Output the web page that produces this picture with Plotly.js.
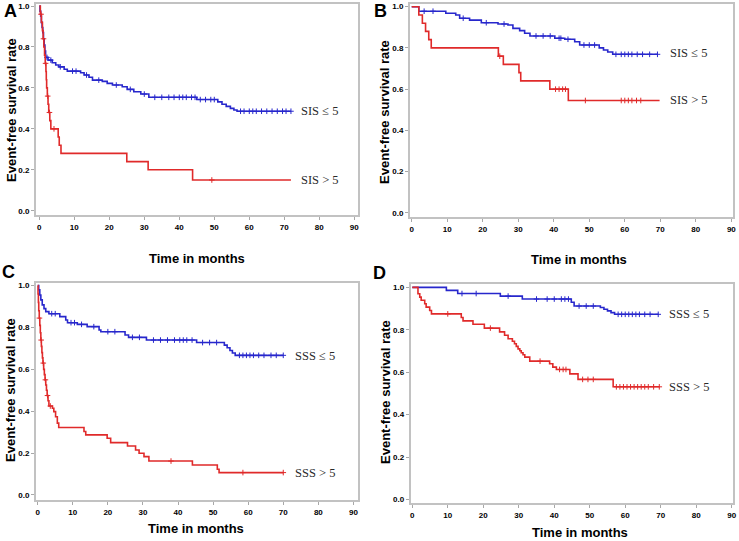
<!DOCTYPE html>
<html>
<head>
<meta charset="utf-8">
<script src="https://cdn.plot.ly/plotly-3.0.1.min.js"></script>
<style>
html,body{margin:0;padding:0;background:#fff;}
#chart{width:739px;height:541px;}
</style>
</head>
<body>
<div id="chart"></div>
<script>
// ---------- shared ticks / labels ----------
const monthTicks = [0, 10, 20, 30, 40, 50, 60, 70, 80, 90];
const rateTicks = [0, 0.2, 0.4, 0.6, 0.8, 1.0];
const panelLetters = ['A', 'B', 'C', 'D'];
const xTitle = 'Time in months';
const yTitle = 'Event-free survival rate';
const sisLabels = ['SIS \u2264 5', 'SIS > 5'];
const sssLabels = ['SSS \u2264 5', 'SSS > 5'];

// ---------- Panel A (SIS) ----------
const aLowTime = [0, 0.2, 0.4, 0.6, 0.8, 1.0, 1.2, 1.4, 1.6, 1.8, 2.5, 3.7, 4.7, 5.6, 7.1, 8.0, 11.8, 12.8, 14.2, 15.2, 18.0, 19.4, 20.9, 23.7, 25.1, 27.0, 29.0, 31.3, 45.0, 51.0, 52.2, 53.4, 54.6, 55.6, 56.5];
const aLowSurv = [1.0, 0.975, 0.95, 0.92, 0.895, 0.87, 0.84, 0.81, 0.78, 0.749, 0.736, 0.723, 0.712, 0.703, 0.691, 0.682, 0.674, 0.663, 0.652, 0.638, 0.632, 0.622, 0.614, 0.606, 0.593, 0.581, 0.57, 0.554, 0.543, 0.532, 0.52, 0.51, 0.5, 0.492, 0.486];
const aLowEnd = 71.9;
const aLowCensor = [2.2, 3.3, 6.0, 9.5, 10.5, 13.5, 17, 22, 26, 30, 33, 35, 37, 38.5, 40, 41, 42, 43.5, 44.5, 46, 47.5, 49, 50, 57.5, 58.5, 60, 61, 62, 63.5, 65, 66.5, 68, 69.5, 70.5, 71.9];
const aHighTime = [0, 0.3, 0.6, 0.9, 1.1, 1.3, 1.5, 1.7, 1.9, 2.0, 2.1, 2.3, 2.5, 2.7, 3.0, 3.3, 5.4, 5.7, 6.2, 25.0, 31.1, 43.8];
const aHighSurv = [1.0, 0.96, 0.92, 0.88, 0.84, 0.80, 0.76, 0.72, 0.68, 0.64, 0.60, 0.56, 0.52, 0.48, 0.44, 0.40, 0.36, 0.32, 0.28, 0.24, 0.20, 0.15];
const aHighEnd = 71.9;
const aHighCensor = [0.5, 1.2, 1.8, 2.4, 2.9, 4.2, 49.3];

// ---------- Panel B (SIS) ----------
const bLowTime = [0, 2.0, 9.6, 12.4, 13.5, 16.3, 19.6, 24.3, 27.1, 28.5, 30.4, 31.8, 33.3, 40.3, 43.1, 45.9, 47.3, 52.8, 54.0, 55.2, 56.6];
const bLowSurv = [1.0, 0.978, 0.968, 0.96, 0.944, 0.935, 0.922, 0.916, 0.911, 0.895, 0.884, 0.871, 0.858, 0.847, 0.842, 0.83, 0.814, 0.80, 0.79, 0.78, 0.769];
const bLowEnd = 69.2;
const bLowCensor = [3.5, 6, 14.5, 21, 26, 35, 37, 39, 41.5, 42, 44, 48.5, 50, 51.5, 57.5, 59, 60, 61, 62, 63.5, 65, 67, 69.2];
const bHighTime = [0, 2.0, 3.0, 3.9, 4.8, 5.5, 24.4, 25.8, 30.2, 30.7, 38.9, 44.1];
const bHighSurv = [1.0, 0.96, 0.92, 0.88, 0.84, 0.80, 0.76, 0.72, 0.68, 0.64, 0.60, 0.545];
const bHighEnd = 69.8;
const bHighCensor = [24.8, 40.5, 41.5, 42.5, 43.3, 48.9, 59, 60, 61, 62, 63.3, 64.5];

// ---------- Panel C (SSS) ----------
const cLowTime = [0, 0.3, 0.6, 0.9, 1.3, 1.8, 2.3, 3.2, 6.3, 8.0, 8.5, 11.3, 14.1, 17.5, 18.0, 24.9, 25.9, 31.0, 45.3, 53.2, 54.0, 54.8, 55.5, 56.3];
const cLowSurv = [1.0, 0.98, 0.955, 0.932, 0.908, 0.89, 0.876, 0.866, 0.852, 0.836, 0.823, 0.815, 0.804, 0.788, 0.78, 0.764, 0.753, 0.74, 0.728, 0.716, 0.703, 0.69, 0.678, 0.667];
const cLowEnd = 70;
const cLowCensor = [4, 5, 9.5, 10.5, 12.5, 16, 20, 22, 27, 29, 33, 35, 37, 39, 40.5, 41.5, 42.5, 44, 47, 49, 51, 57.5, 58.5, 59.5, 60.5, 61.5, 63, 64.5, 66.5, 68, 70];
const cHighTime = [0, 0.1, 0.2, 0.3, 0.45, 0.6, 0.75, 0.9, 1.05, 1.2, 1.35, 1.5, 1.7, 1.9, 2.1, 2.3, 2.5, 2.7, 2.95, 3.2, 4.2, 4.6, 5.1, 5.6, 6.0, 13.2, 13.7, 19.8, 20.8, 25.6, 27.9, 28.9, 30.3, 31.7, 44.1, 51.2, 51.7];
const cHighSurv = [1.0, 0.96, 0.92, 0.88, 0.845, 0.81, 0.775, 0.74, 0.71, 0.68, 0.655, 0.63, 0.6, 0.575, 0.55, 0.525, 0.5, 0.475, 0.45, 0.425, 0.414, 0.398, 0.374, 0.343, 0.322, 0.303, 0.287, 0.271, 0.25, 0.234, 0.215, 0.199, 0.183, 0.162, 0.143, 0.123, 0.107];
const cHighEnd = 70;
const cHighCensor = [0.5, 1.0, 1.6, 2.2, 2.8, 3.6, 38, 58.5, 70];

// ---------- Panel D (SSS) ----------
const dLowTime = [0, 9.6, 12.8, 24.8, 31.0, 44.8, 45.6, 53.0, 54.0, 55.0, 56.0, 57.0];
const dLowSurv = [1.0, 0.986, 0.971, 0.959, 0.945, 0.93, 0.912, 0.905, 0.897, 0.889, 0.881, 0.873];
const dLowEnd = 69.3;
const dLowCensor = [14, 18, 27, 35, 38, 40, 42, 43, 44, 47, 49, 51, 58, 59, 60, 61, 62, 63, 64, 65.5, 67, 69.3];
const dHighTime = [0, 1.6, 2.1, 2.5, 3.5, 3.9, 4.9, 5.4, 13.8, 14.3, 17.1, 20.3, 24.6, 26.0, 27.0, 28.2, 28.8, 29.3, 29.8, 30.3, 30.7, 31.2, 31.7, 33.1, 38.7, 39.6, 40.6, 44.4, 46.7, 56.6];
const dHighSurv = [1.0, 0.97, 0.954, 0.939, 0.923, 0.907, 0.891, 0.875, 0.858, 0.842, 0.826, 0.808, 0.79, 0.774, 0.758, 0.746, 0.734, 0.722, 0.71, 0.701, 0.692, 0.682, 0.671, 0.652, 0.64, 0.624, 0.613, 0.592, 0.566, 0.531];
const dHighEnd = 69.6;
const dHighCensor = [10, 22, 36, 41.5, 42.5, 43.3, 48, 49.5, 51, 57.5, 58.5, 59.5, 60.5, 61.5, 62.5, 63.5, 64.5, 65.5, 66.5, 68, 69.6];

// ---------- styling ----------
const BLUE = '#2727cc';
const RED = '#e02a2a';
const FRAME = '#c2c2c2';
const W = 739, H = 541;

function survAt(times, surv, t) {
  let v = surv[0];
  for (let i = 0; i < times.length; i++) { if (times[i] <= t) v = surv[i]; }
  return v;
}

function kmTraces(times, surv, end, censor, color, xa, ya) {
  const x = times.concat([end]);
  const y = surv.concat([surv[surv.length - 1]]);
  return [
    {type: 'scatter', mode: 'lines', x: x, y: y, xaxis: xa, yaxis: ya,
     line: {shape: 'hv', color: color, width: 1.6}, hoverinfo: 'skip', showlegend: false},
    {type: 'scatter', mode: 'markers', x: censor, y: censor.map(t => survAt(times, surv, t)),
     xaxis: xa, yaxis: ya, showlegend: false, hoverinfo: 'skip',
     marker: {symbol: 'cross-thin', size: 4, line: {color: color, width: 1}, color: color}}
  ];
}

const traces = []
  .concat(kmTraces(aLowTime, aLowSurv, aLowEnd, aLowCensor, BLUE, 'x', 'y'))
  .concat(kmTraces(aHighTime, aHighSurv, aHighEnd, aHighCensor, RED, 'x', 'y'))
  .concat(kmTraces(bLowTime, bLowSurv, bLowEnd, bLowCensor, BLUE, 'x2', 'y2'))
  .concat(kmTraces(bHighTime, bHighSurv, bHighEnd, bHighCensor, RED, 'x2', 'y2'))
  .concat(kmTraces(cLowTime, cLowSurv, cLowEnd, cLowCensor, BLUE, 'x3', 'y3'))
  .concat(kmTraces(cHighTime, cHighSurv, cHighEnd, cHighCensor, RED, 'x3', 'y3'))
  .concat(kmTraces(dLowTime, dLowSurv, dLowEnd, dLowCensor, BLUE, 'x4', 'y4'))
  .concat(kmTraces(dHighTime, dHighSurv, dHighEnd, dHighCensor, RED, 'x4', 'y4'));

const tickFont = {family: 'Liberation Sans, Arial, sans-serif', size: 8, color: '#000', weight: 'bold'};

function xAxis(left, right, range, anchor) {
  return {domain: [left / W, right / W], range: range, anchor: anchor,
    tickmode: 'array', tickvals: monthTicks, ticktext: monthTicks.map(String),
    ticks: 'outside', ticklen: 3, tickwidth: 1, tickcolor: '#a8a8a8',
    showline: true, linecolor: FRAME, linewidth: 2, mirror: true,
    showgrid: false, zeroline: false, tickfont: tickFont, fixedrange: true};
}
function yAxis(top, bottom, range, anchor) {
  return {domain: [1 - bottom / H, 1 - top / H], range: range, anchor: anchor,
    tickmode: 'array', tickvals: rateTicks, ticktext: rateTicks.map(v => v.toFixed(1)),
    ticks: 'outside', ticklen: 3, tickwidth: 1, tickcolor: '#a8a8a8',
    showline: true, linecolor: FRAME, linewidth: 2, mirror: true,
    showgrid: false, zeroline: false, tickfont: tickFont, fixedrange: true};
}

const titleFont = {family: 'Liberation Sans, Arial, sans-serif', size: 13, color: '#000', weight: 'bold'};
const letterFont = {family: 'Liberation Sans, Arial, sans-serif', size: 18, color: '#000', weight: 'bold'};
const groupFont = {family: 'Liberation Serif, Times New Roman, serif', size: 12.5, color: '#2a2a2a'};

function paperText(text, px, py, font, extra) {
  return Object.assign({text: text, x: px / W, y: 1 - py / H, xref: 'paper', yref: 'paper',
    showarrow: false, font: font, xanchor: 'center', yanchor: 'middle'}, extra || {});
}
function groupText(text, x, y, xa, ya) {
  return {text: text, x: x, y: y, xref: xa, yref: ya, showarrow: false, font: groupFont,
    xanchor: 'left', yanchor: 'middle'};
}

const annotations = [
  paperText(panelLetters[0], 2, 11, letterFont, {xanchor: 'left'}),
  paperText(panelLetters[1], 372, 11, letterFont, {xanchor: 'left'}),
  paperText(panelLetters[2], 0, 272, letterFont, {xanchor: 'left'}),
  paperText(panelLetters[3], 371, 273, letterFont, {xanchor: 'left'}),
  paperText(xTitle, 197, 258, titleFont),
  paperText(xTitle, 579, 259, titleFont),
  paperText(xTitle, 196, 528, titleFont),
  paperText(xTitle, 580, 532, titleFont),
  paperText(yTitle, 11, 110, titleFont, {textangle: -90}),
  paperText(yTitle, 385, 112, titleFont, {textangle: -90}),
  paperText(yTitle, 10, 390, titleFont, {textangle: -90}),
  paperText(yTitle, 385, 392, titleFont, {textangle: -90}),
  groupText(sisLabels[0], 74.2, 0.485, 'x', 'y'),
  groupText(sisLabels[1], 74.2, 0.15, 'x', 'y'),
  groupText(sisLabels[0], 72.2, 0.776, 'x2', 'y2'),
  groupText(sisLabels[1], 72.2, 0.547, 'x2', 'y2'),
  groupText(sssLabels[0], 72.8, 0.664, 'x3', 'y3'),
  groupText(sssLabels[1], 72.8, 0.104, 'x3', 'y3'),
  groupText(sssLabels[0], 71.7, 0.874, 'x4', 'y4'),
  groupText(sssLabels[1], 71.7, 0.531, 'x4', 'y4')
];

const layout = {
  width: W, height: H,
  margin: {l: 0, r: 0, t: 0, b: 0},
  paper_bgcolor: '#fff', plot_bgcolor: '#fff',
  showlegend: false,
  xaxis: xAxis(36, 358, [-0.94, 91.06], 'y'),
  yaxis: yAxis(4, 215, [-0.021, 1.01], 'x'),
  xaxis2: xAxis(410, 733, [-0.48, 90.47], 'y2'),
  yaxis2: yAxis(4, 217, [-0.02, 1.013], 'x2'),
  xaxis3: xAxis(36, 358, [-0.48, 91.3], 'y3'),
  yaxis3: yAxis(282.7, 500, [-0.024, 1.014], 'x3'),
  xaxis4: xAxis(410.7, 733, [-0.45, 90.37], 'y4'),
  yaxis4: yAxis(284, 503, [-0.017, 1.016], 'x4'),
  annotations: annotations
};

Plotly.newPlot('chart', traces, layout, {staticPlot: true, displayModeBar: false});
</script>
</body>
</html>
